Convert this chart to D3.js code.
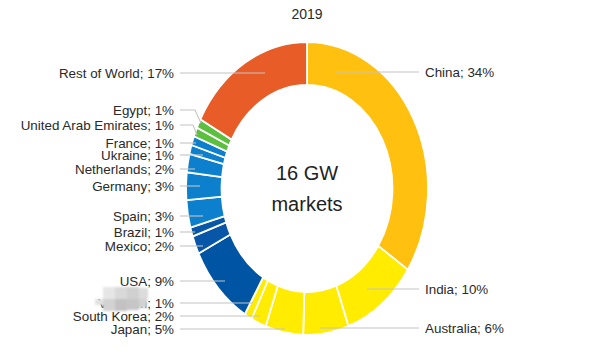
<!DOCTYPE html>
<html><head><meta charset="utf-8">
<script src="https://cdn.jsdelivr.net/npm/d3@7"></script>
<style>
html,body{margin:0;padding:0;background:#fff;}
svg{display:block;font-family:"Liberation Sans",Arial,Helvetica,sans-serif;}
</style></head>
<body>
<svg id="chart" width="590" height="359"></svg>
<script>
// ---- data (clockwise from 12 o'clock) ----
const categories = ["China","India","Australia","Japan","South Korea","Vietnam","USA","Mexico","Brazil","Spain","Germany","Netherlands","Ukraine","France","United Arab Emirates","Egypt","Rest of World"];
const shares = [34,10,6,5,2,1,9,2,1,3,3,2,1,1,1,1,17];
const title = "2019";
const centerLines = ["16 GW","markets"];

// ---- styles / layout (not data) ----
const sliceColors = ["#FFC00F","#FFEC00","#FFEC00","#FFEC00","#FFEC00","#FFEC00","#0054A4","#0856A8","#0856A8","#0C80CC","#0C80CC","#0C80CC","#0C80CC","#0C80CC","#5CBF3E","#5CBF3E","#E85C27"];
const labelSide = ["r","r","r","l","l","l","l","l","l","l","l","l","l","l","l","l","l"];
const labelY = [72,289,328,329,316,303,281,246,232,216,186,169,155,143,125,110,73];
const leaderEnd = [[335],[367],[320],[285],[260],[253],[225],[203],[195],[203],[200],[195],[203],[196],[193,197,135],[195,201,123],[265]];

const cx = 307, cy = 188.5, sx = 0.826;
const rOuter = 146.5, rInner = 103.5;
const leftTextX = 174, rightTextX = 425;

const svg = d3.select("#chart");

svg.append("text").attr("x", cx).attr("y", 19).attr("text-anchor","middle")
  .attr("font-size", 14).attr("fill","#2a2a2a").text(title);

const pie = d3.pie().sort(null).value(d => d)(shares);
const arc = d3.arc().innerRadius(rInner).outerRadius(rOuter);

const g = svg.append("g").attr("transform", `translate(${cx},${cy}) scale(${sx},1)`);
g.selectAll("path").data(pie).join("path")
  .attr("d", arc)
  .attr("fill", (d,i) => sliceColors[i])
  .attr("stroke", "#fff")
  .attr("stroke-width", 1.8)
  .attr("vector-effect", "non-scaling-stroke");

svg.append("text").attr("x", cx).attr("y", 180).attr("text-anchor","middle")
  .attr("font-size", 20).attr("fill","#222").text(centerLines[0]);
svg.append("text").attr("x", cx).attr("y", 211).attr("text-anchor","middle")
  .attr("font-size", 20).attr("fill","#222").text(centerLines[1]);

const lines = svg.append("g");
const labels = svg.append("g");
categories.forEach((c, i) => {
  const y = labelY[i];
  const left = labelSide[i] === "l";
  const e = leaderEnd[i];
  let pts;
  if (left) {
    pts = [[leftTextX + 6, y], [e[0], y]];
    if (e.length > 1) pts.push([e[1], e[2]]);
  } else {
    pts = [[rightTextX - 6, y], [e[0], y]];
  }
  lines.append("path").attr("d", d3.line()(pts))
    .attr("fill","none").attr("stroke","#c4c4c4").attr("stroke-width",1.1);
  labels.append("text")
    .attr("x", left ? leftTextX : rightTextX)
    .attr("y", y + 4.7)
    .attr("text-anchor", left ? "end" : "start")
    .attr("font-size", 13.4).attr("fill","#2a2a2a")
    .text(`${c}; ${shares[i]}%`);
});

svg.append("defs").append("filter").attr("id","soft")
  .append("feGaussianBlur").attr("stdDeviation", 0.8);
const mos = svg.append("g").attr("filter","url(#soft)");
const cells = [
  [103,287,12,12,"#e6e6e6"],[115,287,12,12,"#d9d9d9"],[127,287,12,12,"#d0d0d0"],[139,288,9,11,"#dcdcdc"],
  [95,299,8,6,"#e2e2e2"],[103,299,12,12,"#d2d2d2"],[115,299,12,12,"#c2c2c2"],[127,299,12,11,"#c6c6c6"],[139,299,8,9,"#d2d2d2"]
];
mos.selectAll("rect").data(cells).join("rect")
  .attr("x", d => d[0]).attr("y", d => d[1]).attr("width", d => d[2]).attr("height", d => d[3])
  .attr("fill", d => d[4]);
</script>
</body></html>
